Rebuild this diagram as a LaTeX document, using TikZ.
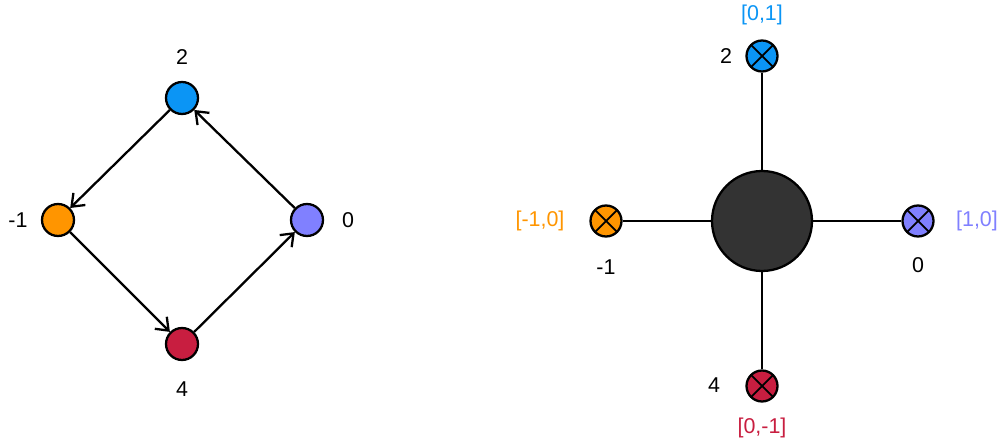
\documentclass[tikz,border=0pt]{standalone}
\usepackage{fontspec}
\setmainfont{Liberation Sans}
\usetikzlibrary{arrows.meta, positioning}

\definecolor{cblue}{HTML}{0B95F5}
\definecolor{corange}{HTML}{FF9500}
\definecolor{cpurple}{HTML}{8080FF}
\definecolor{ccrimson}{HTML}{C81E40}
\definecolor{cdark}{HTML}{333333}

\begin{document}
\begin{tikzpicture}[
    x=0.02cm, y=-0.02cm,
    dot/.style={circle, draw, line width=1.3pt, minimum size=0.64cm, inner sep=0pt},
    xdot/.style={dot, minimum size=0.62cm, path picture={
        \draw[line width=1pt] (path picture bounding box.south west) -- (path picture bounding box.north east)
            (path picture bounding box.north west) -- (path picture bounding box.south east);}},
    hub/.style={circle, draw, line width=1.3pt, fill=cdark, minimum size=2cm, inner sep=0pt},
    arrow/.style={-{Straight Barb[length=2.2mm, width=3.4mm, line width=1.3pt]}, line width=1.3pt},
    link/.style={line width=1.3pt},
    lbl/.style={font=\fontsize{12.2}{14}\selectfont, inner sep=1pt}
]
\useasboundingbox (0,0) rectangle (1000,442);

% left: cycle
\node[dot, fill=cblue] (top) at (182,98) {};
\node[dot, fill=corange] (left) at (58,220) {};
\node[dot, fill=cpurple] (right) at (307,220) {};
\node[dot, fill=ccrimson] (bottom) at (182,344) {};

\node[lbl] (ltop) at (182,57) {2};
\node[lbl] (lleft) at (18,220) {-1};
\node[lbl] (lright) at (348,220) {0};
\node[lbl] (lbottom) at (182,389) {4};

\draw[arrow] (top) -- (left);
\draw[arrow] (left) -- (bottom);
\draw[arrow] (bottom) -- (right);
\draw[arrow] (right) -- (top);

% right: star
\node[hub] (center) at (762,221) {};
\node[xdot, fill=cblue] (n) at (762,56) {};
\node[xdot, fill=corange] (w) at (606,221) {};
\node[xdot, fill=cpurple] (e) at (918,221) {};
\node[xdot, fill=ccrimson] (s) at (762,386) {};

\draw[link] (center) -- (n);
\draw[link] (center) -- (w);
\draw[link] (center) -- (e);
\draw[link] (center) -- (s);

\node[lbl, text=cblue] (cn) at (762,15) {[0,1]};
\node[lbl] (kn) at (726,56) {2};
\node[lbl, text=corange] (cw) at (540,221) {[-1,0]};
\node[lbl] (kw) at (606,267) {-1};
\node[lbl, text=cpurple] (ce) at (977,221) {[1,0]};
\node[lbl] (ke) at (918,265) {0};
\node[lbl] (ks) at (714,385) {4};
\node[lbl, text=ccrimson] (cs) at (762,428) {[0,-1]};
\end{tikzpicture}
\end{document}
